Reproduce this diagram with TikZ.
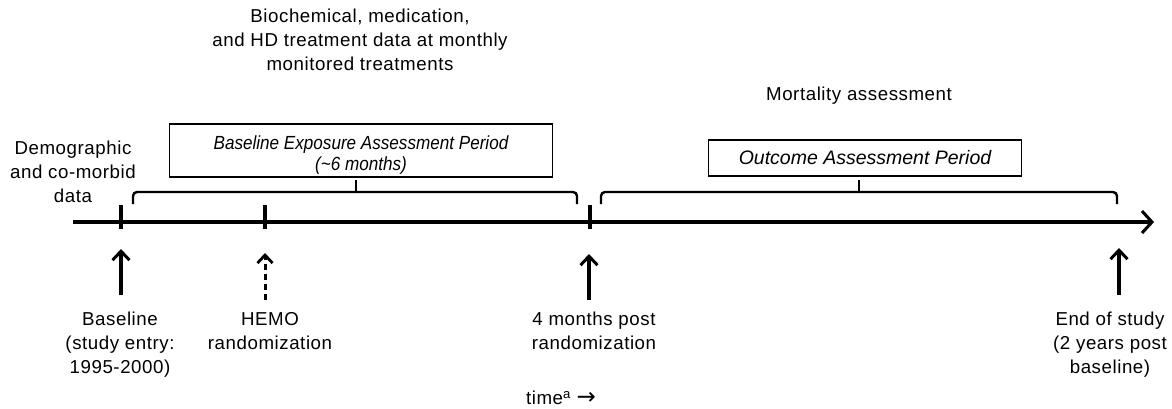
\documentclass[tikz,border=0pt]{standalone}
\usepackage{fontspec}
\setmainfont{Liberation Sans}[LetterSpace=3]
\newfontfamily\arrowfont{DejaVu Sans}
\usetikzlibrary{arrows.meta}
\tikzset{
  lbl/.style={align=center,font=\fontsize{18.7}{24}\selectfont,inner sep=0pt},
  period/.style={draw,line width=1.3pt,align=center,font=\fontsize{19.5}{21}\selectfont\itshape\addfontfeatures{LetterSpace=0},inner sep=0pt},
  marker/.style={line width=3.5pt,-{Straight Barb[length=9pt,width=17pt,line width=3pt]}},
  brace/.style={line width=2.4pt,rounded corners=4pt},
}
\begin{document}
\begin{tikzpicture}[x=1pt,y=-1pt]
 \useasboundingbox (0,0) rectangle (1172,408);
 % texts above
 \node[lbl] (biochem) at (360,40) {Biochemical, medication,\\and HD treatment data at monthly\\monitored treatments};
 \node[lbl] (mort) at (859,96) {Mortality assessment};
 \node[lbl] (demog) at (73,172) {Demographic\\and co-morbid\\data};
 % the two periods
 \node[period,minimum width=383pt,minimum height=53pt,font=\fontsize{19}{21}\selectfont\itshape\addfontfeatures{LetterSpace=0,FakeStretch=0.9}] (bepbox) at (361,150.5) {\rule{0pt}{23pt}Baseline Exposure Assessment Period\\(\textasciitilde 6 months)};
 \node[period,minimum width=313pt,minimum height=36pt] (oapbox) at (865,158) {Outcome Assessment Period};
 \draw[brace] (133,204) -- (133,192) -- (577,192) -- (577,204);
 \draw[brace] (356,192) -- (356,180);
 \draw[brace] (601,204) -- (601,192) -- (1117,192) -- (1117,204);
 \draw[brace] (859,192) -- (859,180);
 % time line
 \coordinate (tstart) at (73,222);
 \coordinate (tend) at (1154,222);
 \draw[line width=3.5pt,-{Straight Barb[length=10pt,width=22pt,line width=3pt]}] (tstart) -- (tend);
 \foreach \t in {121,265,590}
   \draw[line width=3.5pt] (\t,205) -- (\t,229);
 % events
 \coordinate (a1) at (121,295); \coordinate (b1) at (121,249);
 \coordinate (a2) at (265,300); \coordinate (b2) at (265,253);
 \coordinate (a3) at (589,300); \coordinate (b3) at (589,254);
 \coordinate (a4) at (1119,295); \coordinate (b4) at (1119,248);
 \draw[marker] (a1) -- (b1);
 \draw[marker,line width=3pt,dash pattern=on 6pt off 4pt,-{Straight Barb[length=8pt,width=15pt,line width=2.8pt]}] (a2) -- (b2);
 \draw[marker] (a3) -- (b3);
 \draw[marker] (a4) -- (b4);
 \node[lbl,anchor=north] (baseline) at (120,312) {Baseline\\(study entry:\\1995-2000)};
 \node[lbl,anchor=north] (hemo) at (270,312) {HEMO\\randomization};
 \node[lbl,anchor=north] (fourmo) at (594,312) {4 months post\\randomization};
 \node[lbl,anchor=north] (endst) at (1110,312) {End of study\\(2 years post\\baseline)};
 \node[lbl] (time) at (561,398) {time\textsuperscript{a} {\arrowfont\fontsize{23}{24}\selectfont →}};
\end{tikzpicture}
\end{document}
